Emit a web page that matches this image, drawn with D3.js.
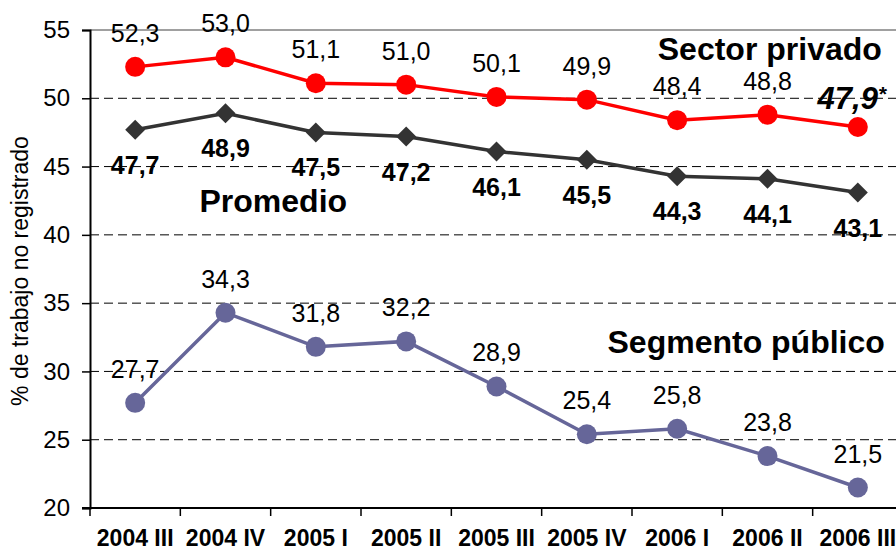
<!DOCTYPE html>
<html>
<head>
<meta charset="utf-8">
<script src="https://cdn.jsdelivr.net/npm/d3@7"></script>
<style>
  html, body { margin: 0; padding: 0; background: #fff; }
  svg { display: block; font-family: "Liberation Sans", Arial, sans-serif; }
  .grid line { stroke: #000; stroke-width: 1; stroke-dasharray: 9,5; }
</style>
</head>
<body>
<div id="chart"></div>
<script>
const periods = ["2004 III", "2004 IV", "2005 I", "2005 II", "2005 III", "2005 IV", "2006 I", "2006 II", "2006 III"];
const sectorPrivado = [52.3, 53.0, 51.1, 51.0, 50.1, 49.9, 48.4, 48.8, 47.9];
const promedio = [47.7, 48.9, 47.5, 47.2, 46.1, 45.5, 44.3, 44.1, 43.1];
const segmentoPublico = [27.7, 34.3, 31.8, 32.2, 28.9, 25.4, 25.8, 23.8, 21.5];
const yTicks = [20, 25, 30, 35, 40, 45, 50, 55];

const width = 896;
const height = 552;
const margin = { top: 30, right: -7, bottom: 44, left: 90 };

const fmt = (v) => d3.format(".1f")(v).replace(".", ",");

const x = d3
  .scaleBand()
  .domain(periods)
  .range([margin.left, width - margin.right]);
const y = d3
  .scaleLinear()
  .domain([20, 55])
  .range([height - margin.bottom, margin.top]);
const cx = (d, i) => x(periods[i]) + x.bandwidth() / 2;

const svg = d3
  .select("#chart")
  .append("svg")
  .attr("width", width)
  .attr("height", height);

// dashed gridlines
svg
  .append("g")
  .attr("class", "grid")
  .selectAll("line")
  .data(yTicks.filter((d) => d > 20 && d < 55))
  .join("line")
  .attr("x1", margin.left)
  .attr("x2", width)
  .attr("y1", (d) => y(d))
  .attr("y2", (d) => y(d));

// top border of plot area
svg
  .append("line")
  .attr("x1", margin.left)
  .attr("x2", width)
  .attr("y1", y(55))
  .attr("y2", y(55))
  .attr("stroke", "#808080")
  .attr("stroke-width", 1.5);

// y axis
const yAxis = svg
  .append("g")
  .attr("transform", `translate(${margin.left},0)`)
  .call(d3.axisLeft(y).tickValues(yTicks).tickSize(8).tickPadding(12));
yAxis.select(".domain").attr("stroke", "#000").attr("stroke-width", 2);
yAxis.selectAll(".tick line").attr("stroke", "#000").attr("stroke-width", 1.5);
yAxis
  .selectAll(".tick text")
  .attr("font-family", "Liberation Sans, Arial, sans-serif")
  .attr("font-size", 24)
  .attr("fill", "#000");

// x axis
const xAxis = svg
  .append("g")
  .attr("transform", `translate(0,${y(20)})`)
  .call(d3.axisBottom(x).tickSize(0).tickPadding(22));
xAxis.select(".domain").remove();
xAxis
  .selectAll(".tick text")
  .attr("font-family", "Liberation Sans, Arial, sans-serif")
  .attr("font-size", 23)
  .attr("font-weight", "bold")
  .attr("fill", "#000");
svg
  .append("line")
  .attr("x1", margin.left - 8)
  .attr("x2", width)
  .attr("y1", y(20))
  .attr("y2", y(20))
  .attr("stroke", "#000")
  .attr("stroke-width", 2);
svg
  .append("g")
  .selectAll("line")
  .data(periods)
  .join("line")
  .attr("x1", (d) => x(d))
  .attr("x2", (d) => x(d))
  .attr("y1", y(20))
  .attr("y2", y(20) + 8)
  .attr("stroke", "#000")
  .attr("stroke-width", 1.5);

// y axis title
svg
  .append("text")
  .attr("transform", `translate(28,${(y(20) + y(55)) / 2 + 2}) rotate(-90)`)
  .attr("text-anchor", "middle")
  .attr("font-size", 23)
  .text("% de trabajo no registrado");

const line = d3
  .line()
  .x(cx)
  .y((d) => y(d));

function drawSeries(values, color, marker, labelDy, bold) {
  const g = svg.append("g");
  g.append("path")
    .attr("d", line(values))
    .attr("fill", "none")
    .attr("stroke", color)
    .attr("stroke-width", 3.5);
  if (marker === "circle") {
    g.selectAll("circle")
      .data(values)
      .join("circle")
      .attr("cx", cx)
      .attr("cy", (d) => y(d))
      .attr("r", 10)
      .attr("fill", color);
  } else {
    g.selectAll(".marker")
      .data(values)
      .join("path")
      .attr("class", "marker")
      .attr("d", d3.symbol(d3.symbolSquare, 200))
      .attr("transform", (d, i) => `translate(${cx(d, i)},${y(d)}) rotate(45)`)
      .attr("fill", color);
  }
  return g
    .selectAll(".value-label")
    .data(values)
    .join("text")
    .attr("class", "value-label")
    .attr("x", cx)
    .attr("y", (d) => y(d) + labelDy)
    .attr("text-anchor", "middle")
    .attr("font-size", 25)
    .attr("font-weight", bold ? "bold" : "normal")
    .text(fmt);
}

drawSeries(segmentoPublico, "#666699", "circle", -25, false);
drawSeries(promedio, "#333333", "diamond", 44, true);
const privLabels = drawSeries(sectorPrivado, "#ff0000", "circle", -25, false);

// last private value is preliminary: bold italic with asterisk
privLabels
  .filter((d, i) => i === periods.length - 1)
  .text(null)
  .attr("y", (d) => y(d) - 18)
  .attr("dx", -6)
  .attr("font-size", 31)
  .attr("font-weight", "bold")
  .attr("font-style", "italic")
  .call((t) => t.append("tspan").text(fmt))
  .call((t) =>
    t.append("tspan").attr("font-size", 21).attr("dy", -8).text("*")
  );

// series titles
const titles = [
  { text: "Sector privado", period: "2006 III", value: 52.8, anchor: "end", dx: 24 },
  { text: "Promedio", period: "2004 IV", value: 41.7, anchor: "start", dx: -26 },
  { text: "Segmento público", period: "2006 III", value: 31.35, anchor: "end", dx: 27 },
];
svg
  .append("g")
  .selectAll("text")
  .data(titles)
  .join("text")
  .attr("x", (d) => x(d.period) + x.bandwidth() / 2 + d.dx)
  .attr("y", (d) => y(d.value))
  .attr("text-anchor", (d) => d.anchor)
  .attr("font-size", 32)
  .attr("font-weight", "bold")
  .text((d) => d.text);
</script>
</body>
</html>
